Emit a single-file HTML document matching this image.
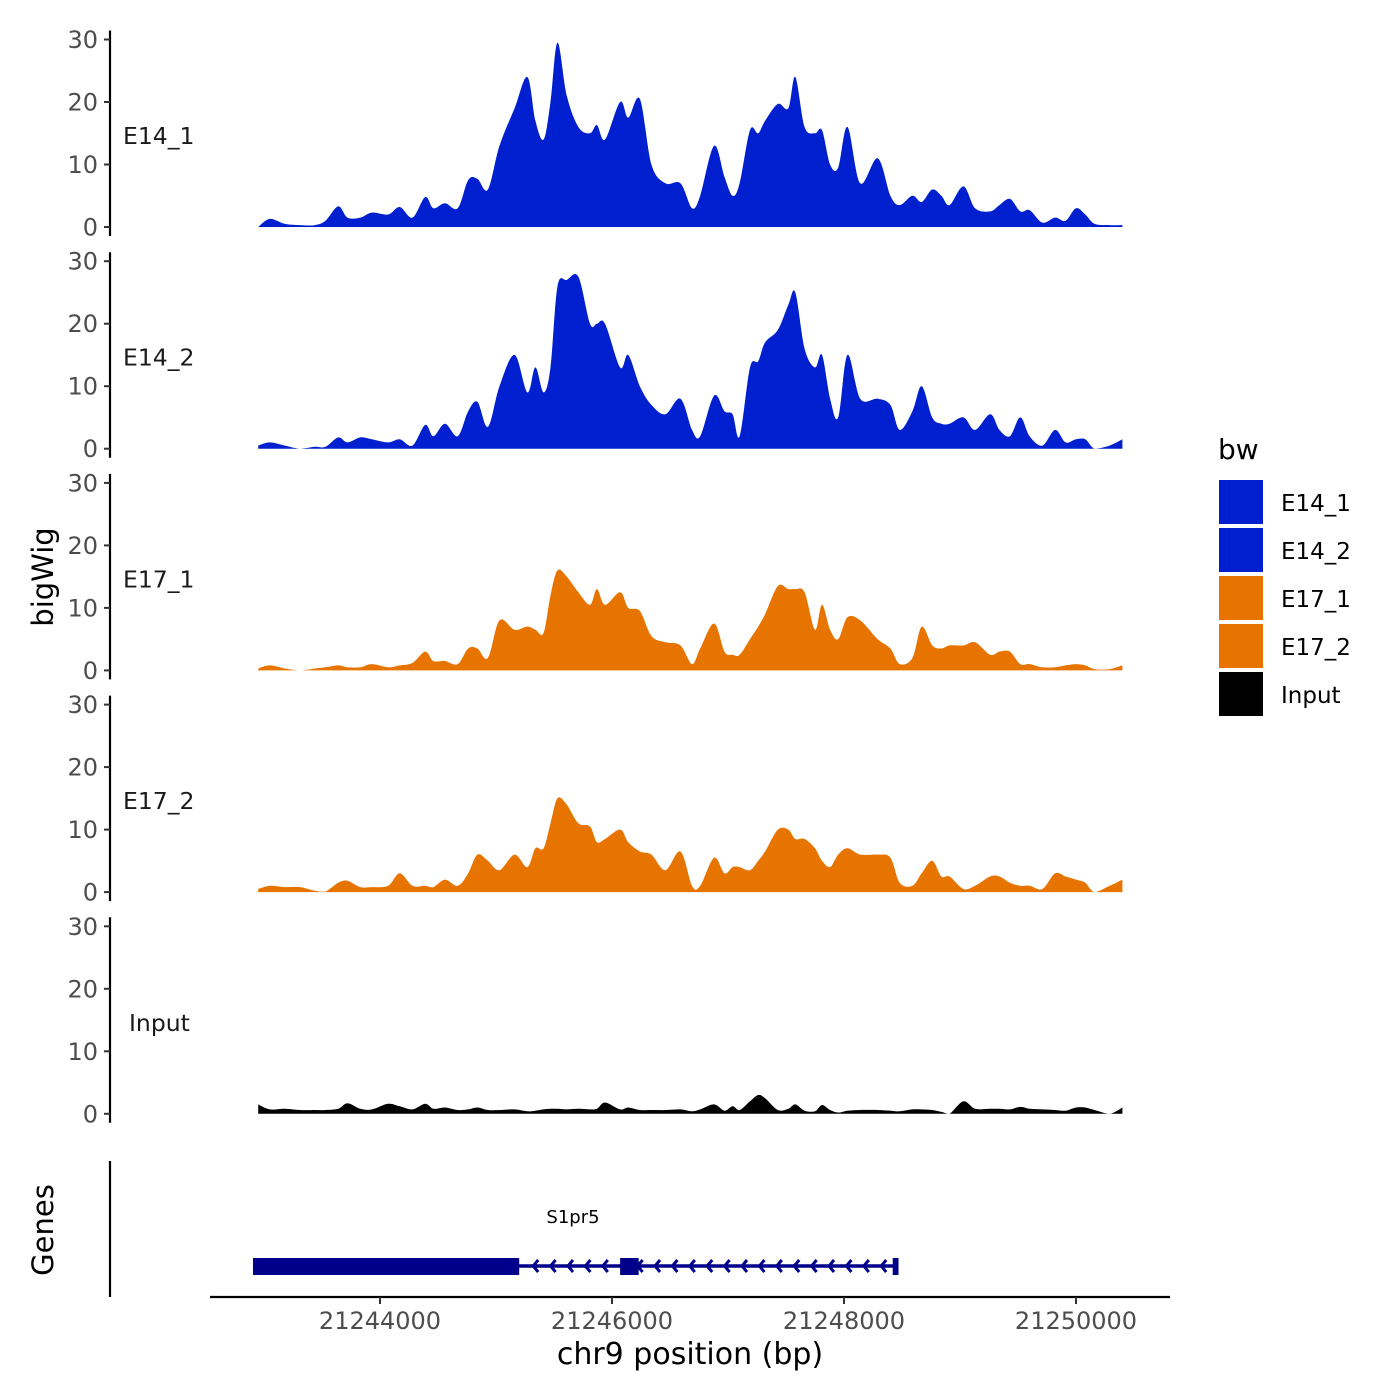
<!DOCTYPE html>
<html><head><meta charset="utf-8">
<style>
html,body{margin:0;padding:0;background:#fff;}
svg{display:block;font-family:"DejaVu Sans","Liberation Sans",sans-serif;}
</style></head>
<body>
<svg id="chart" width="1400" height="1400" viewBox="0 0 1400 1400" xmlns="http://www.w3.org/2000/svg">
<rect width="1400" height="1400" fill="#fff"/>
<g id="panels"></g>
<g id="genes"></g>
<g id="xaxis"></g>
<text x="0" y="0" transform="translate(53,577) rotate(-90)" font-size="29" text-anchor="middle" fill="#000">bigWig</text>
<text x="0" y="0" transform="translate(53,1230) rotate(-90)" font-size="29" text-anchor="middle" fill="#000">Genes</text>
<text x="690" y="1364" font-size="30" text-anchor="middle" fill="#000">chr9 position (bp)</text>
<g id="legend"></g>
</svg>
<script>
const positions=[21242950,21243050,21243180,21243310,21243440,21243530,21243640,21243720,21243830,21243930,21244070,21244170,21244280,21244390,21244460,21244560,21244670,21244760,21244840,21244930,21245030,21245160,21245270,21245340,21245410,21245470,21245530,21245610,21245710,21245810,21245870,21245940,21246070,21246140,21246240,21246340,21246460,21246590,21246690,21246760,21246880,21246970,21247040,21247100,21247190,21247260,21247320,21247430,21247520,21247580,21247660,21247750,21247810,21247880,21247950,21248030,21248140,21248290,21248400,21248480,21248590,21248670,21248760,21248840,21248910,21249030,21249130,21249260,21249340,21249430,21249520,21249600,21249710,21249820,21249910,21250000,21250080,21250160,21250290,21250400];
const e14_1=[0,1.3,0.5,0.3,0.3,1,3.3,1.5,1.5,2.3,2,3.2,1.5,4.8,3,3.8,3,7.5,7.7,6,13,19,24,17,14,20,29.5,21,16,15,16.3,14,20,17.5,20.5,10,7,7,3,5,13,8,5,7,15.5,15,17,19.7,19,24,16,15,15.5,10,9.5,16,7,11,5,3.5,5,4,6,5,3.5,6.5,3,2.5,3.5,4.5,2.5,2.7,0.7,1.5,1,3,2,0.5,0.3,0.3];
const e14_2=[0.5,1,0.5,0,0.3,0.3,1.8,1,1.8,1.5,1,1.5,0.5,3.8,2,4,2,6,7.5,3.5,10,15,9,13,9,13,26,27,27.5,20,20,20,13,15,10,7,5.5,8,3,2,8.5,6,5.5,2,13,14,17,19,23,25,16,13,15,8,5,15,8,8,7,3,6,10,5,4,4,5,3,5.5,3,2,5,2,0.5,3,1,1.5,1.5,0,0.5,1.5];
const e17_1=[0.3,0.8,0.3,0,0.3,0.5,0.8,0.5,0.5,1,0.5,0.8,1.2,3,1.5,1.5,1,3.5,3.5,2,8,6.5,7,6.5,6,12,16,15,12.5,10.5,13,10.5,12.5,10,9.5,5.5,4.5,4,1,3.5,7.5,3,2.5,2.5,5,7,9,13.5,13,13,12.5,6.5,10.5,6.5,5,8.5,8,5,3.5,1,2,7,4,3.5,4,4,4.5,2.5,3,3,1,1,0.5,0.5,0.8,1,0.8,0.2,0.2,0.8];
const e17_2=[0.5,1,0.8,0.8,0.2,0.1,1.5,1.8,0.8,0.8,1,3,1,1,0.8,2,1,3,6,5,3.5,6,4,7,7,11,15,14,11,10.5,8,8.5,10,8,6.5,6,3.5,6.5,1,1,5.5,3,4,4,3.5,5,6.5,10,10,8.5,8.5,7,5,4,6,7,6,6,5.5,1.5,1,3,5,2.5,2.5,0.5,1,2.5,2.5,1.5,1,1,0.5,3,2.5,2,1.5,0,1,2];
const input=[1.5,0.7,0.8,0.6,0.6,0.6,0.8,1.7,0.8,0.7,1.6,1.2,0.7,1.6,0.8,1,0.6,0.7,1,0.6,0.6,0.7,0.4,0.5,0.7,0.8,0.8,0.7,0.8,0.7,0.8,1.8,0.7,1,0.6,0.6,0.6,0.7,0.4,0.7,1.5,0.5,1.2,0.6,2,3,2.5,0.6,0.8,1.5,0.5,0.4,1.4,0.6,0.2,0.5,0.6,0.6,0.5,0.4,0.7,0.7,0.6,0.3,0,2,0.8,0.8,0.8,0.7,1.1,0.8,0.7,0.6,0.5,1,1,0.6,0,1];
const seriesNames=["E14_1","E14_2","E17_1","E17_2","Input"];
const seriesColors=["#0020CF","#0020CF","#E87400","#E87400","#000000"];
const yTicks=[0,10,20,30];
const xTicks=[21244000,21246000,21248000,21250000];
const geneName="S1pr5";
const geneStart=21242905, geneEnd=21248470;
const exonStarts=[21242905,21246070,21248420];
const exonEnds=[21245200,21246230,21248470];

const NS="http://www.w3.org/2000/svg";
const xs=bp=>380+(bp-21244000)*0.116;
function mk(tag,attrs,parent){const e=document.createElementNS(NS,tag);for(const k in attrs)e.setAttribute(k,attrs[k]);parent.appendChild(e);return e;}
const allSeries=[e14_1,e14_2,e17_1,e17_2,input];
const panels=document.getElementById('panels');
allSeries.forEach((vals,i)=>{
  const zeroY=227+i*221.7;
  const ys=v=>zeroY-v*6.25;
  const g=mk('g',{},panels);
  
  
  const pts=positions.map((p,j)=>[xs(p),ys(vals[j])]);
  let d='M'+pts[0][0]+','+zeroY+' L'+pts[0][0].toFixed(1)+','+pts[0][1].toFixed(1);
  for(let j=0;j<pts.length-1;j++){
    const p0=pts[Math.max(0,j-1)],p1=pts[j],p2=pts[j+1],p3=pts[Math.min(pts.length-1,j+2)];
    const c1x=p1[0]+(p2[0]-p0[0])/6, c1y=Math.min(zeroY,p1[1]+(p2[1]-p0[1])/6);
    const c2x=p2[0]-(p3[0]-p1[0])/6, c2y=Math.min(zeroY,p2[1]-(p3[1]-p1[1])/6);
    d+=' C'+c1x.toFixed(1)+','+c1y.toFixed(1)+' '+c2x.toFixed(1)+','+c2y.toFixed(1)+' '+p2[0].toFixed(1)+','+p2[1].toFixed(1);
  }
  d+=' L'+pts[pts.length-1][0]+','+zeroY+' Z';
  const a=mk('path',{d:d,fill:seriesColors[i],stroke:'none'},g);
  
  
  const ax=mk('line',{x1:110,x2:110,y1:ys(30)-9,y2:zeroY+9,stroke:'#000','stroke-width':2.2},g);
  
  
  yTicks.forEach(t=>{
    mk('line',{x1:104,x2:110,y1:ys(t),y2:ys(t),stroke:'#333','stroke-width':2},g);
    const tl=mk('text',{x:98,y:ys(t)+8.5,'font-size':24,'text-anchor':'end',fill:'#4d4d4d'},g);
    tl.textContent=t;
    
    
  });
  const lab=mk('text',{x:i===4?129:123,y:zeroY-83,'font-size':23.5,fill:'#1a1a1a'},g);
  lab.textContent=seriesNames[i];
  
  
});
// genes
const gg=document.getElementById('genes');
const gl=mk('line',{x1:110,x2:110,y1:1161,y2:1297,stroke:'#000','stroke-width':2.2},gg);


const gline=mk('line',{x1:xs(geneStart),x2:xs(geneEnd),y1:1266,y2:1266,stroke:'#00008B','stroke-width':3.5},gg);


for(let x=xs(exonEnds[0])+14;x<xs(geneEnd)-2;x+=17.4){
  mk('polyline',{points:(x+5)+',1260 '+x+',1266 '+(x+5)+',1272',fill:'none',stroke:'#00008B','stroke-width':3},gg);
}
exonStarts.forEach((s,k)=>{
  const r=mk('rect',{x:xs(s),y:1258,width:xs(exonEnds[k])-xs(s),height:17,fill:'#00008B'},gg);
  
  
});
const gn=mk('text',{x:573,y:1223,'font-size':18,'text-anchor':'middle',fill:'#000'},gg);
gn.textContent=geneName;


// x axis
const xa=document.getElementById('xaxis');
const xl=mk('line',{x1:210,x2:1170,y1:1297,y2:1297,stroke:'#000','stroke-width':2.2},xa);


xTicks.forEach(t=>{
  mk('line',{x1:xs(t),x2:xs(t),y1:1297,y2:1304,stroke:'#333','stroke-width':2},xa);
  const tl=mk('text',{x:xs(t),y:1329,'font-size':24,'text-anchor':'middle',fill:'#4d4d4d'},xa);
  tl.textContent=t;
  
  
});
// legend
const lg=document.getElementById('legend');
const lt=mk('text',{x:1218,y:459,'font-size':28,fill:'#000'},lg);
lt.textContent='bw';


seriesNames.forEach((n,i)=>{
  const e=mk('g',{},lg);
  
  
  mk('rect',{x:1219,y:480+i*48,width:44,height:44,fill:seriesColors[i]},e);
  const t=mk('text',{x:1281,y:511+i*48,'font-size':23,fill:'#000'},e);
  t.textContent=n;
});
</script>
</body></html>
